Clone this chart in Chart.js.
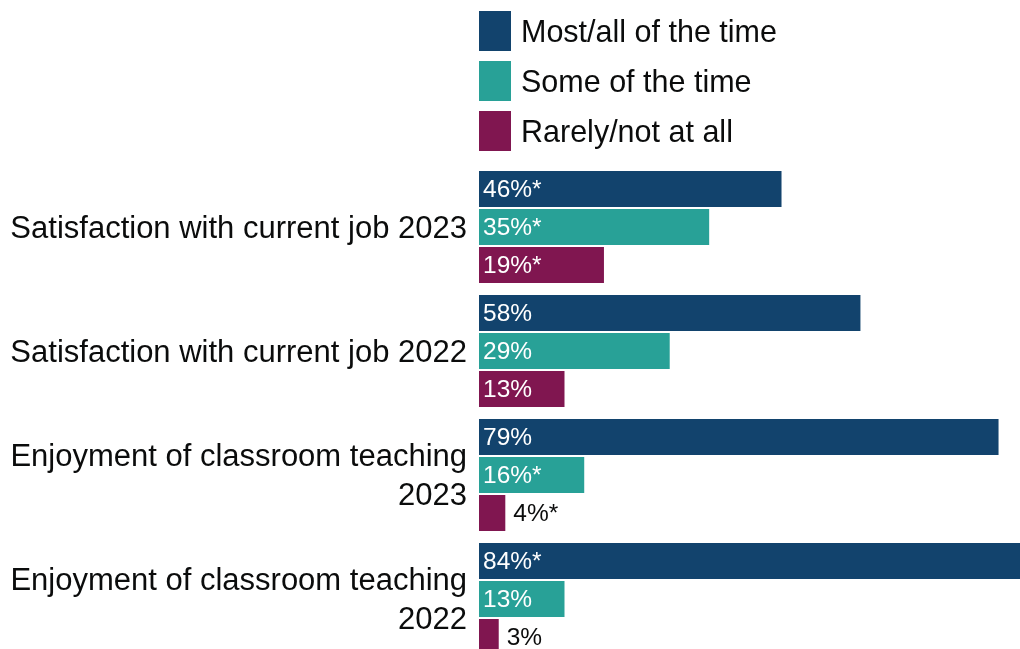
<!DOCTYPE html>
<html>
<head>
<meta charset="utf-8">
<script src="https://cdn.jsdelivr.net/npm/chart.js@4.4.1/dist/chart.umd.min.js"></script>
<style>
  html,body{margin:0;padding:0;background:#fff;overflow:hidden;}
  canvas{display:block;}
</style>
</head>
<body>
<canvas id="chart" width="1040" height="670"></canvas>
<script>
// categorias y series (porcentajes)
const categorias = [
  "Satisfaction with current job 2023",
  "Satisfaction with current job 2022",
  ["Enjoyment of classroom teaching", "2023"],
  ["Enjoyment of classroom teaching", "2022"]
];
const series = ["Most/all of the time", "Some of the time", "Rarely/not at all"];
const mostAll = [46, 58, 79, 84];
const some    = [35, 29, 16, 13];
const rarely  = [19, 13, 4, 3];
// diferencias significativas (se marcan con *)
const sigMostAll = [true, false, false, true];
const sigSome    = [true, false, true, false];
const sigRarely  = [true, false, true, false];

const colores = ["#12436D", "#28A197", "#801650"];
const FUENTE = "'Liberation Sans', Arial, sans-serif";
const NEGRO = "#0b0c0c";

const leyenda = {
  id: "leyenda",
  afterDraw(chart) {
    const ctx = chart.ctx;
    ctx.save();
    ctx.font = "30.5px " + FUENTE;
    ctx.textBaseline = "middle";
    ctx.textAlign = "left";
    chart.data.datasets.forEach((ds, i) => {
      const y = 11 + i * 50;
      ctx.fillStyle = ds.backgroundColor;
      ctx.fillRect(479, y, 32, 40);
      ctx.fillStyle = NEGRO;
      ctx.fillText(ds.label, 521, y + 23);
    });
    ctx.restore();
  }
};

const etiquetas = {
  id: "etiquetas",
  afterDatasetsDraw(chart) {
    const ctx = chart.ctx;
    ctx.save();
    ctx.font = "24.5px " + FUENTE;
    ctx.textBaseline = "middle";
    ctx.textAlign = "left";
    chart.data.datasets.forEach((ds, i) => {
      chart.getDatasetMeta(i).data.forEach((bar, j) => {
        const v = ds.data[j];
        const txt = v + "%" + (ds.sig[j] ? "*" : "");
        if (v >= 8) {
          ctx.fillStyle = "#ffffff";
          ctx.fillText(txt, bar.base + 4, bar.y + 1);
        } else {
          ctx.fillStyle = NEGRO;
          ctx.fillText(txt, bar.x + 8, bar.y + 1);
        }
      });
    });
    ctx.restore();
  }
};

const mk = (label, data, sig, i) => ({
  label, data, sig,
  backgroundColor: colores[i],
  borderWidth: 0,
  barPercentage: 0.947,
  categoryPercentage: 0.919
});

new Chart(document.getElementById("chart"), {
  type: "bar",
  data: {
    labels: categorias,
    datasets: [
      mk(series[0], mostAll, sigMostAll, 0),
      mk(series[1], some, sigSome, 1),
      mk(series[2], rarely, sigRarely, 2)
    ]
  },
  options: {
    indexAxis: "y",
    responsive: false,
    animation: false,
    layout: { autoPadding: false, padding: { top: 165, right: 2, bottom: 9, left: 0 } },
    plugins: { legend: { display: false }, tooltip: { enabled: false } },
    scales: {
      x: { display: false, min: 0, max: 85 },
      y: {
        grid: { display: false, drawTicks: false },
        border: { display: false },
        ticks: {
          color: NEGRO,
          padding: 12,
          labelOffset: 2,
          font: { family: FUENTE, size: 31, lineHeight: 1.27 }
        },
        // ancho fijo del eje y sin relleno extra por las etiquetas de dos lineas
        afterFit(s) { s.width = 479; s.paddingTop = 0; s.paddingBottom = 0; }
      }
    }
  },
  plugins: [etiquetas, leyenda]
});
</script>
</body>
</html>
